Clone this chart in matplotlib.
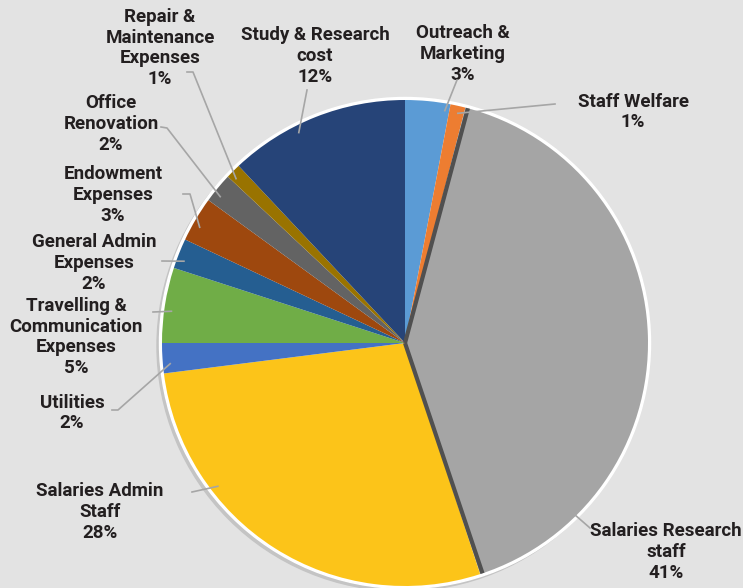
import numpy as np
import matplotlib.pyplot as plt

# slices, clockwise from 12 o'clock
categories = ["Outreach &\nMarketing", "Staff Welfare", "Salaries Research\nstaff",
              "Salaries Admin\nStaff", "Utilities", "Travelling &\nCommunication\nExpenses",
              "General Admin\nExpenses", "Endowment\nExpenses", "Office\nRenovation",
              "Repair &\nMaintenance\nExpenses", "Study & Research\ncost"]
shares = [3, 1, 41, 28, 2, 5, 2, 3, 2, 1, 12]

colors = ["#5b9bd5", "#ed7d31", "#a5a5a5", "#fcc419", "#4472c4", "#70ad47",
          "#255e91", "#9e480e", "#636363", "#997300", "#264478"]

# label layout in pixels (image coords, y down): text centre, leader start, leader elbow,
# and where along the wedge (clockwise fraction) the leader ends
label_pos = [(463, 54), (633, 112), (666, 552), (100, 512), (72, 413), (76, 337),
             (94, 263), (113, 195), (111, 124), (160, 48), (315, 56)]
leader_start = [(457, 80), (555, 104), (590, 528), (192, 492), (112, 410), (153, 312),
                (162, 261), (183, 194), (161, 127), (187, 72), (307, 90)]
leader_elbow = [None, None, None, None, (118, 410), None, None, (190, 194),
                (167, 128), (193, 72), None]
leader_frac = [0.9, 0.6, 0.82, 0.70, 0.3, 0.43, 0.32, 0.39, 0.33, 0.28, 0.38]

W, H = 743, 588
bg = "#e3e3e3"
cx, cy, R = 405, H - 343, 243

fig = plt.figure(figsize=(W / 100, H / 100), dpi=100, facecolor=bg)
ax = fig.add_axes([0, 0, 1, 1])
ax.set_facecolor(bg)

# soft shadow + white rim
ax.add_patch(plt.Circle((cx - 3, cy - 3), R + 2, color="#c4c4c4", zorder=0))
ax.add_patch(plt.Circle((cx, cy), R + 2.5, color="white", zorder=0.5))

wedges, _ = ax.pie(shares, colors=colors, startangle=90, counterclock=False,
                   center=(cx, cy), radius=R, wedgeprops=dict(linewidth=0))

# dark bevel on the grey slice edges
gw = wedges[2]
for th in (gw.theta1 + 0.6, gw.theta2 - 0.6):
    t = np.deg2rad(th)
    ax.plot([cx, cx + R * np.cos(t)], [cy, cy + R * np.sin(t)],
            color="#505050", lw=3, solid_capstyle="butt", zorder=3)

for i, w in enumerate(wedges):
    lx, ly = label_pos[i]
    pct = f"{shares[i]}%"
    ax.text(lx, H - ly, categories[i] + "\n" + pct, ha="center", va="center",
            fontsize=13.5, fontweight="bold", color="#231f20",
            family=["Roboto", "DejaVu Sans"], linespacing=1.2)
    th = np.deg2rad(w.theta2 - leader_frac[i] * (w.theta2 - w.theta1))
    ex, ey = cx + R * 0.97 * np.cos(th), cy + R * 0.97 * np.sin(th)
    pts = [leader_start[i]]
    if leader_elbow[i] is not None:
        pts.append(leader_elbow[i])
    xs = [p[0] for p in pts] + [ex]
    ys = [H - p[1] for p in pts] + [ey]
    ax.plot(xs, ys, color="#a6a6a6", lw=1.2, zorder=4)

ax.set_xlim(0, W)
ax.set_ylim(0, H)
ax.set_aspect("equal")
ax.axis("off")

fig.savefig("out.png", dpi=100, facecolor=bg)
